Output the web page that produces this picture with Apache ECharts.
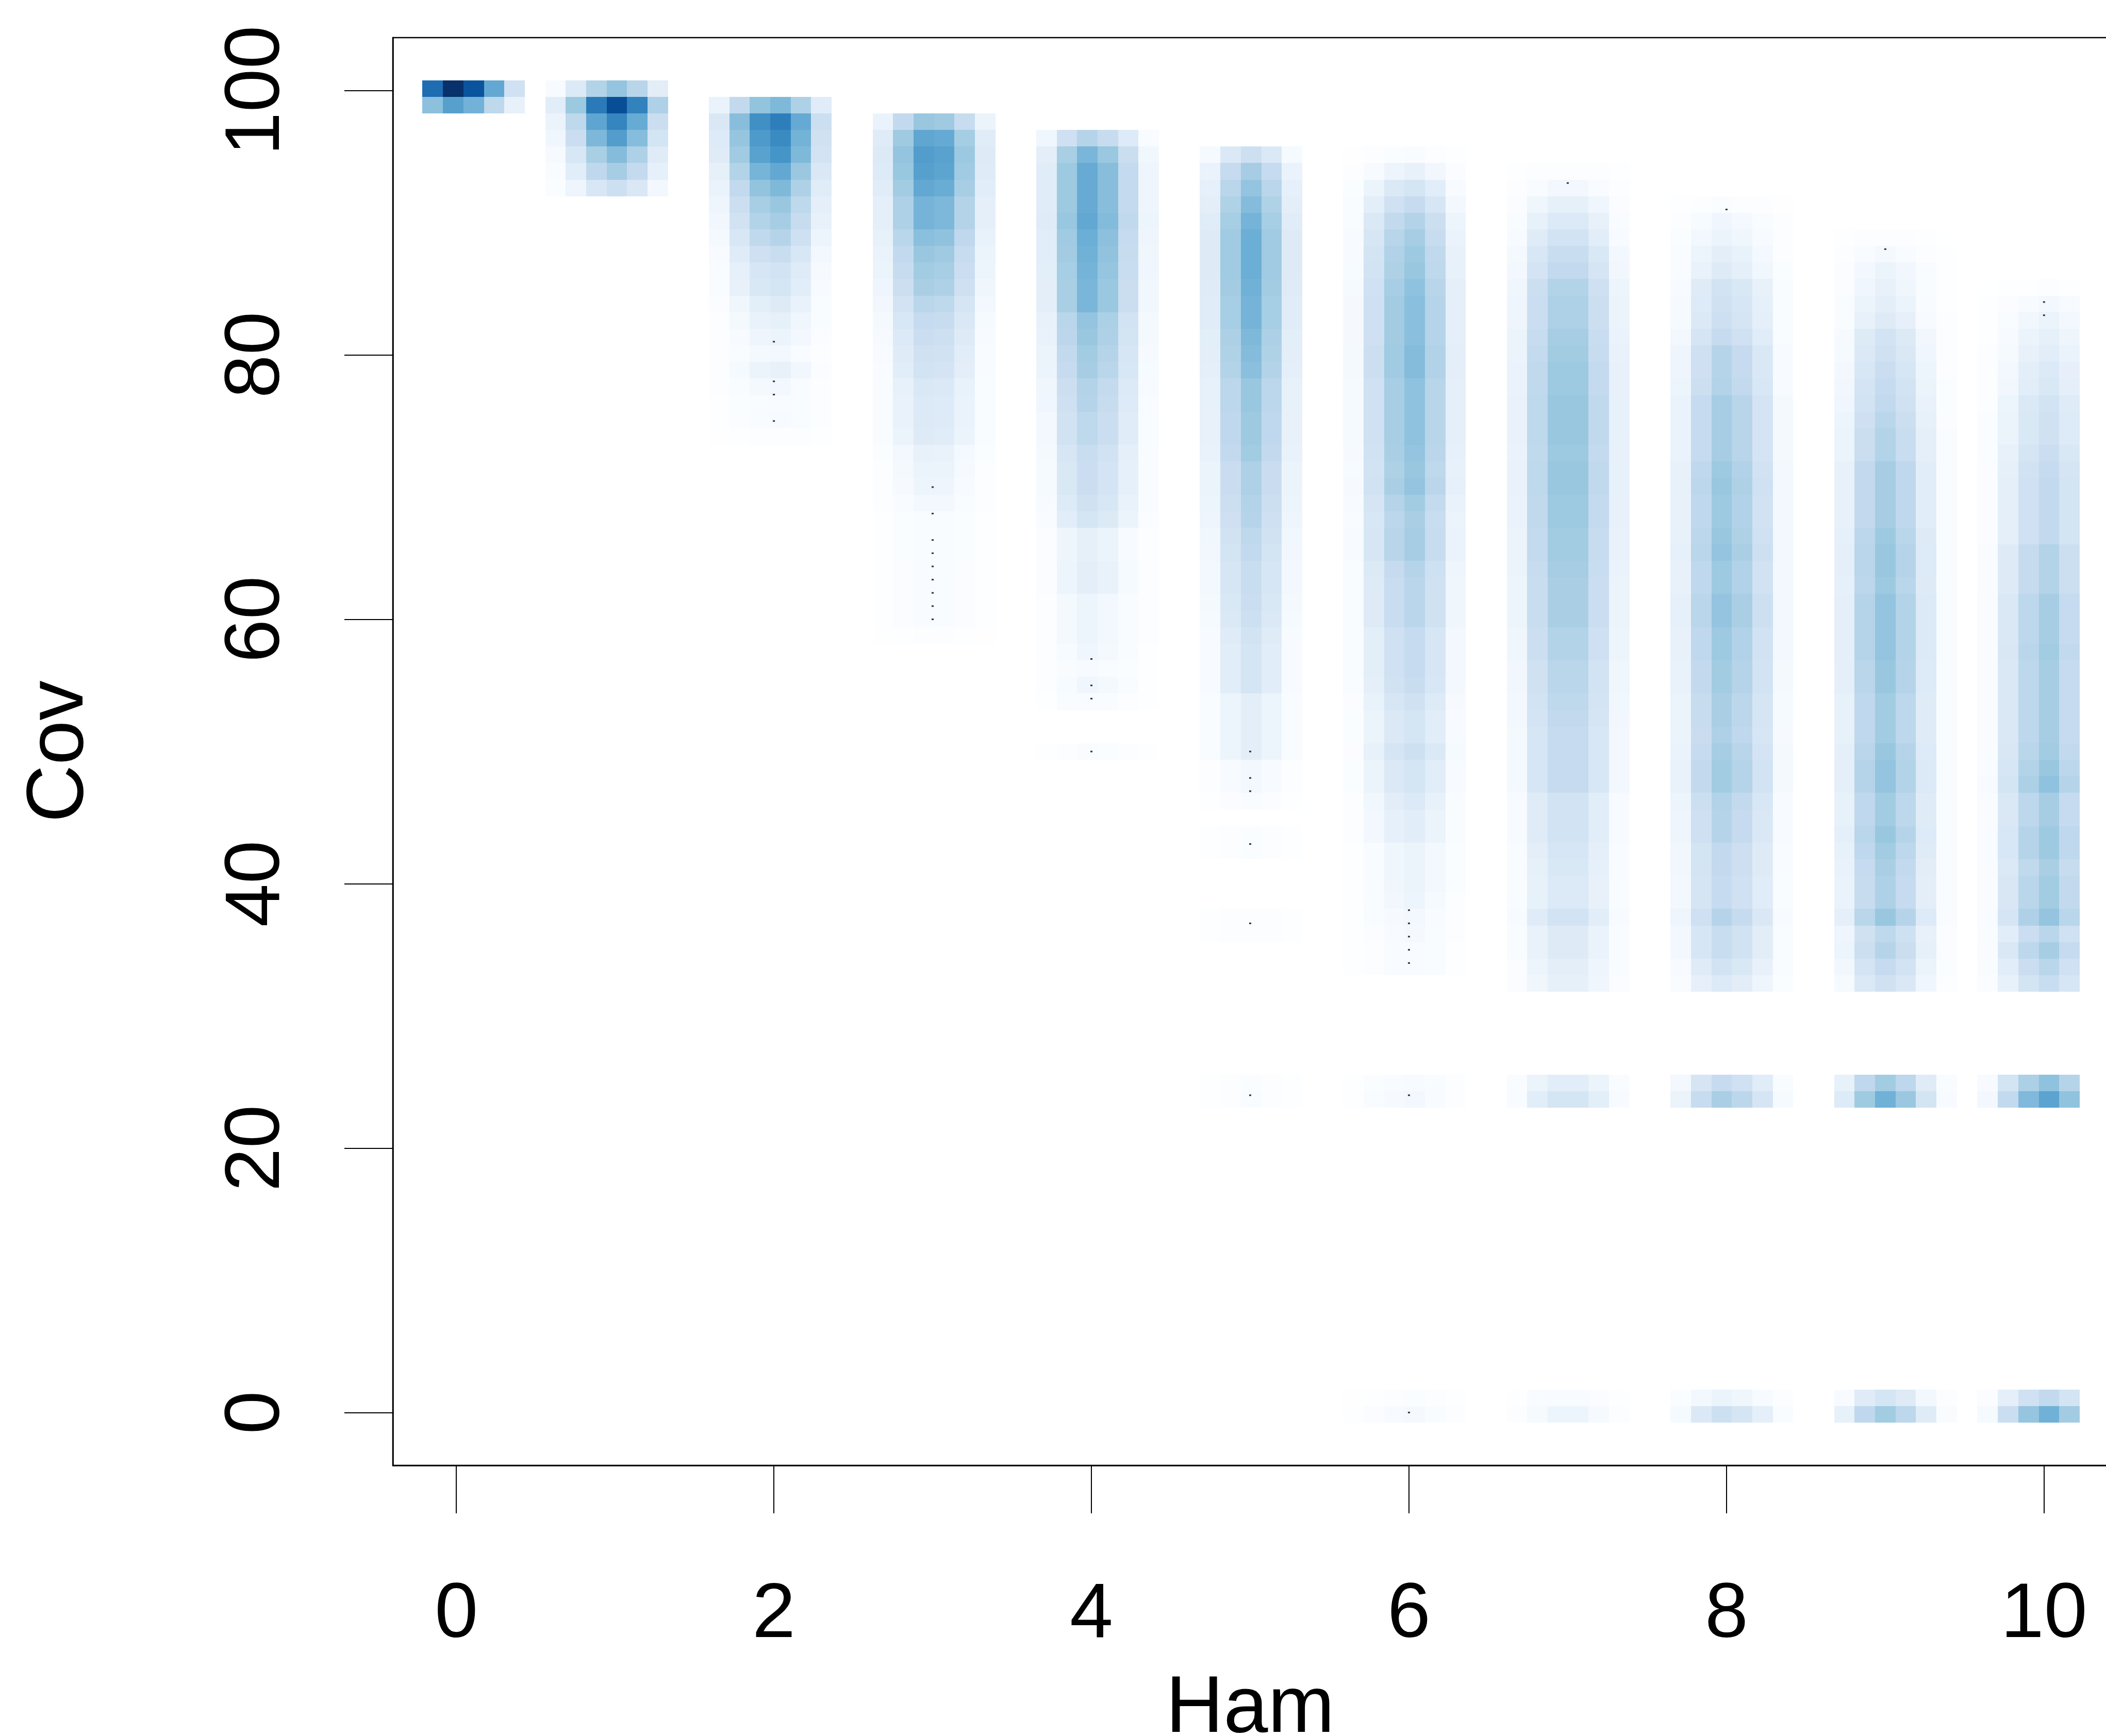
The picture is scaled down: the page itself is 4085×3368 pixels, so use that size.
<!DOCTYPE html>
<html><head><meta charset="utf-8">
<style>html,body{margin:0;padding:0;background:#fff}#c{width:4085px;height:3368px}</style>
<script src="https://cdn.jsdelivr.net/npm/echarts@6/dist/echarts.min.js"></script>
</head><body><div id="c"></div>
<script>
// Tick labels
const hamTicks = [0, 2, 4, 6, 8, 10];
const covTicks = [0, 20, 40, 60, 80, 100];

// Density shade (0-90 on the palette below) of the strongest bin, per Cov row.
const ham0 = [90, 55];
const ham1 = [42, 81, 64, 56, 45, 38, 27];
const ham2 = [46, 66, 62, 59, 52, 46, 41, 38, 34, 29, 25, 24, 20, 17, 15, 12, 16, 12, 9, 10, 5];
const ham3 = [41, 53, 56, 55, 52, 48, 48, 44, 41, 39, 37, 33, 30, 28, 26, 25, 22, 21, 21, 20, 16, 15, 14, 12, 8, 8, 8, 9, 9, 9, 9, 4];
const ham4 = [34, 47, 51, 51, 51, 52, 50, 49, 48, 47, 47, 42, 41, 39, 38, 35, 34, 32, 32, 29, 28, 28, 26, 24, 17, 17, 18, 18, 14, 14, 14, 13, 10, 13, 9, 0, 0, 7];
const ham5 = [27, 38, 42, 45, 48, 50, 50, 50, 49, 48, 48, 46, 45, 44, 41, 41, 40, 40, 39, 36, 36, 35, 34, 32, 31, 29, 29, 28, 27, 25, 24, 24, 24, 18, 18, 18, 18, 12, 12, 8, 0, 6, 6, 0, 0, 0, 5, 5];
const ham6 = [7, 16, 24, 30, 35, 38, 40, 41, 43, 44, 44, 44, 45, 45, 43, 43, 43, 43, 42, 41, 42, 39, 37, 38, 38, 34, 33, 33, 33, 30, 30, 30, 29, 26, 24, 24, 27, 24, 24, 21, 19, 19, 15, 15, 15, 14, 12, 11, 9, 9];
const ham7 = [5, 12, 17, 21, 25, 29, 31, 35, 36, 36, 38, 39, 40, 40, 41, 41, 41, 40, 41, 41, 40, 40, 39, 39, 38, 37, 37, 37, 35, 35, 33, 33, 32, 31, 30, 30, 30, 30, 25, 25, 25, 23, 22, 21, 21, 25, 20, 20, 18, 17];
const ham8 = [6, 13, 15, 18, 20, 25, 26, 27, 30, 34, 34, 35, 38, 38, 38, 38, 40, 41, 40, 40, 41, 42, 40, 40, 42, 42, 40, 40, 39, 39, 37, 37, 36, 38, 39, 39, 35, 34, 34, 31, 31, 30, 30, 34, 29, 29, 25, 21];
const ham9 = [5, 11, 15, 16, 18, 20, 25, 26, 28, 30, 31, 33, 35, 35, 38, 38, 38, 38, 40, 41, 41, 40, 42, 42, 42, 42, 41, 41, 39, 39, 39, 41, 42, 42, 39, 39, 41, 39, 37, 36, 36, 41, 32, 34, 30, 26];
const ham10 = [4, 12, 15, 17, 19, 21, 22, 25, 26, 26, 28, 30, 31, 31, 31, 31, 35, 35, 35, 38, 38, 38, 39, 38, 38, 38, 38, 38, 39, 41, 43, 38, 38, 40, 40, 37, 39, 39, 42, 33, 38, 33, 29];

// First Cov row (counted from the top of the raster) of each list above.
const hamFirstRow = [0, 0, 1, 2, 3, 4, 4, 5, 7, 9, 12];
// First raster column of each Ham.
const hamFirstBin = [0, 6, 14, 22, 30, 38, 45, 53, 61, 69, 76];
// Spread of each Ham across its raster columns.
const spread0 = [0.79, 1, 0.88, 0.58, 0.29];
const spread1 = [0.23, 0.5, 0.83, 1, 0.8, 0.44];
const spread2 = [0.33, 0.67, 0.92, 1, 0.78, 0.42];
const spread3 = [0.37, 0.75, 1, 0.97, 0.72, 0.36];
const spread4 = [0.38, 0.79, 1, 0.87, 0.6, 0.27];
const spread5 = [0.4, 0.79, 1, 0.79, 0.4];
const spread6 = [0.25, 0.61, 0.88, 1, 0.78, 0.4];
const spread7 = [0.38, 0.78, 1, 1, 0.76, 0.4];
const spread8 = [0.4, 0.79, 1, 0.88, 0.64, 0.29];
const spread9 = [0.42, 0.81, 1, 0.83, 0.5, 0.2];
const spread10 = [0.22, 0.57, 0.85, 1, 0.79];

// Isolated bands near Cov 24 and Cov 0: [Ham, upper row shade, lower row shade]
const band24 = [[5, 6, 7], [6, 10, 12], [7, 19, 24], [8, 30, 37], [9, 39, 49], [10, 43, 54]];
const band0 = [[6, 6, 11], [7, 9, 14], [8, 15, 27], [9, 24, 39], [10, 31, 49]];

// Individual outlying points: [Ham, Cov]
const outliers = [
  [2, 81], [2, 78], [2, 77], [2, 75],
  [3, 70], [3, 68], [3, 66], [3, 65], [3, 64], [3, 63], [3, 62], [3, 61], [3, 60],
  [4, 57], [4, 55], [4, 54], [4, 50],
  [5, 50], [5, 48], [5, 47], [5, 43], [5, 37], [5, 24],
  [6, 38], [6, 37], [6, 36], [6, 35], [6, 34], [6, 24], [6, 0],
  [7, 93], [8, 91], [9, 88], [10, 84], [10, 83]
];

const palette = ['#FFFFFF', '#F7FBFF', '#DEEBF7', '#C6DBEF', '#9ECAE1', '#6BAED6', '#4292C6', '#2171B5', '#08519C', '#08306B'];

const hamLevels = [ham0, ham1, ham2, ham3, ham4, ham5, ham6, ham7, ham8, ham9, ham10];
const hamSpread = [spread0, spread1, spread2, spread3, spread4, spread5, spread6, spread7, spread8, spread9, spread10];

// Raster geometry in data units
const binX0 = -0.2133, binW = 0.12886, binYTop = 100.78, binH = 1.2538;

const cells = [];
function addRow(h, row, level) {
  if (!level) return;
  hamSpread[h].forEach(function (w, k) {
    const bin = hamFirstBin[h] + k;
    cells.push([binX0 + (bin + 0.5) * binW, binYTop - (row + 0.5) * binH, level * w]);
  });
}
hamLevels.forEach(function (list, h) {
  list.forEach(function (lv, i) { addRow(h, hamFirstRow[h] + i, lv); });
});
band24.forEach(function (b) { addRow(b[0], 60, b[1]); addRow(b[0], 61, b[2]); });
band0.forEach(function (b) { addRow(b[0], 79, b[1]); addRow(b[0], 80, b[2]); });

const font = 'Liberation Sans';
const chart = echarts.init(document.getElementById('c'), null, { renderer: 'canvas', width: 4085, height: 3368 });
chart.setOption({
  backgroundColor: '#fff',
  animation: false,
  grid: { show: true, outerBoundsMode: 'none', left: 762, top: 73, width: 3326, height: 2770, borderColor: '#000', borderWidth: 2.5, backgroundColor: 'transparent', containLabel: false },
  xAxis: {
    type: 'value', min: -0.4, max: 10.4, name: 'Ham', nameLocation: 'middle', nameGap: 397,
    nameTextStyle: { color: '#000', fontFamily: font, fontSize: 155 },
    splitLine: { show: false },
    axisLine: { show: true, onZero: false, lineStyle: { color: '#000', width: 2.5 } },
    axisTick: { show: true, length: 93, lineStyle: { color: '#000', width: 2 }, customValues: hamTicks },
    axisLabel: { show: true, color: '#000', fontFamily: font, fontSize: 151, margin: 216, customValues: hamTicks, hideOverlap: false }
  },
  yAxis: {
    type: 'value', min: -4, max: 104, name: 'Cov', nameLocation: 'middle', nameGap: 567, nameRotate: 90,
    nameTextStyle: { color: '#000', fontFamily: font, fontSize: 155 },
    splitLine: { show: false },
    axisLine: { show: true, onZero: false, lineStyle: { color: '#000', width: 2.5 } },
    axisTick: { show: true, length: 94, lineStyle: { color: '#000', width: 2 }, customValues: covTicks },
    axisLabel: { show: true, color: '#000', fontFamily: font, fontSize: 151, margin: 187, rotate: 90, customValues: covTicks, hideOverlap: false }
  },
  visualMap: { show: false, type: 'continuous', min: 0, max: 90, dimension: 2, seriesIndex: 0, inRange: { color: palette } },
  series: [
    {
      type: 'custom', data: cells, silent: true, clip: true, encode: { x: 0, y: 1 },
      renderItem: function (params, api) {
        const c = api.coord([api.value(0), api.value(1)]);
        const s = api.size([binW, binH]);
        const x0 = Math.round(c[0] - s[0] / 2), x1 = Math.round(c[0] + s[0] / 2);
        const y0 = Math.round(c[1] - s[1] / 2), y1 = Math.round(c[1] + s[1] / 2);
        return { type: 'rect', shape: { x: x0, y: y0, width: x1 - x0, height: y1 - y0 }, style: { fill: api.visual('color') } };
      }
    },
    {
      type: 'scatter', data: outliers, symbol: 'rect', symbolSize: [4, 3], silent: true,
      itemStyle: { color: '#000' }, z: 5
    }
  ]
});
</script></body></html>
